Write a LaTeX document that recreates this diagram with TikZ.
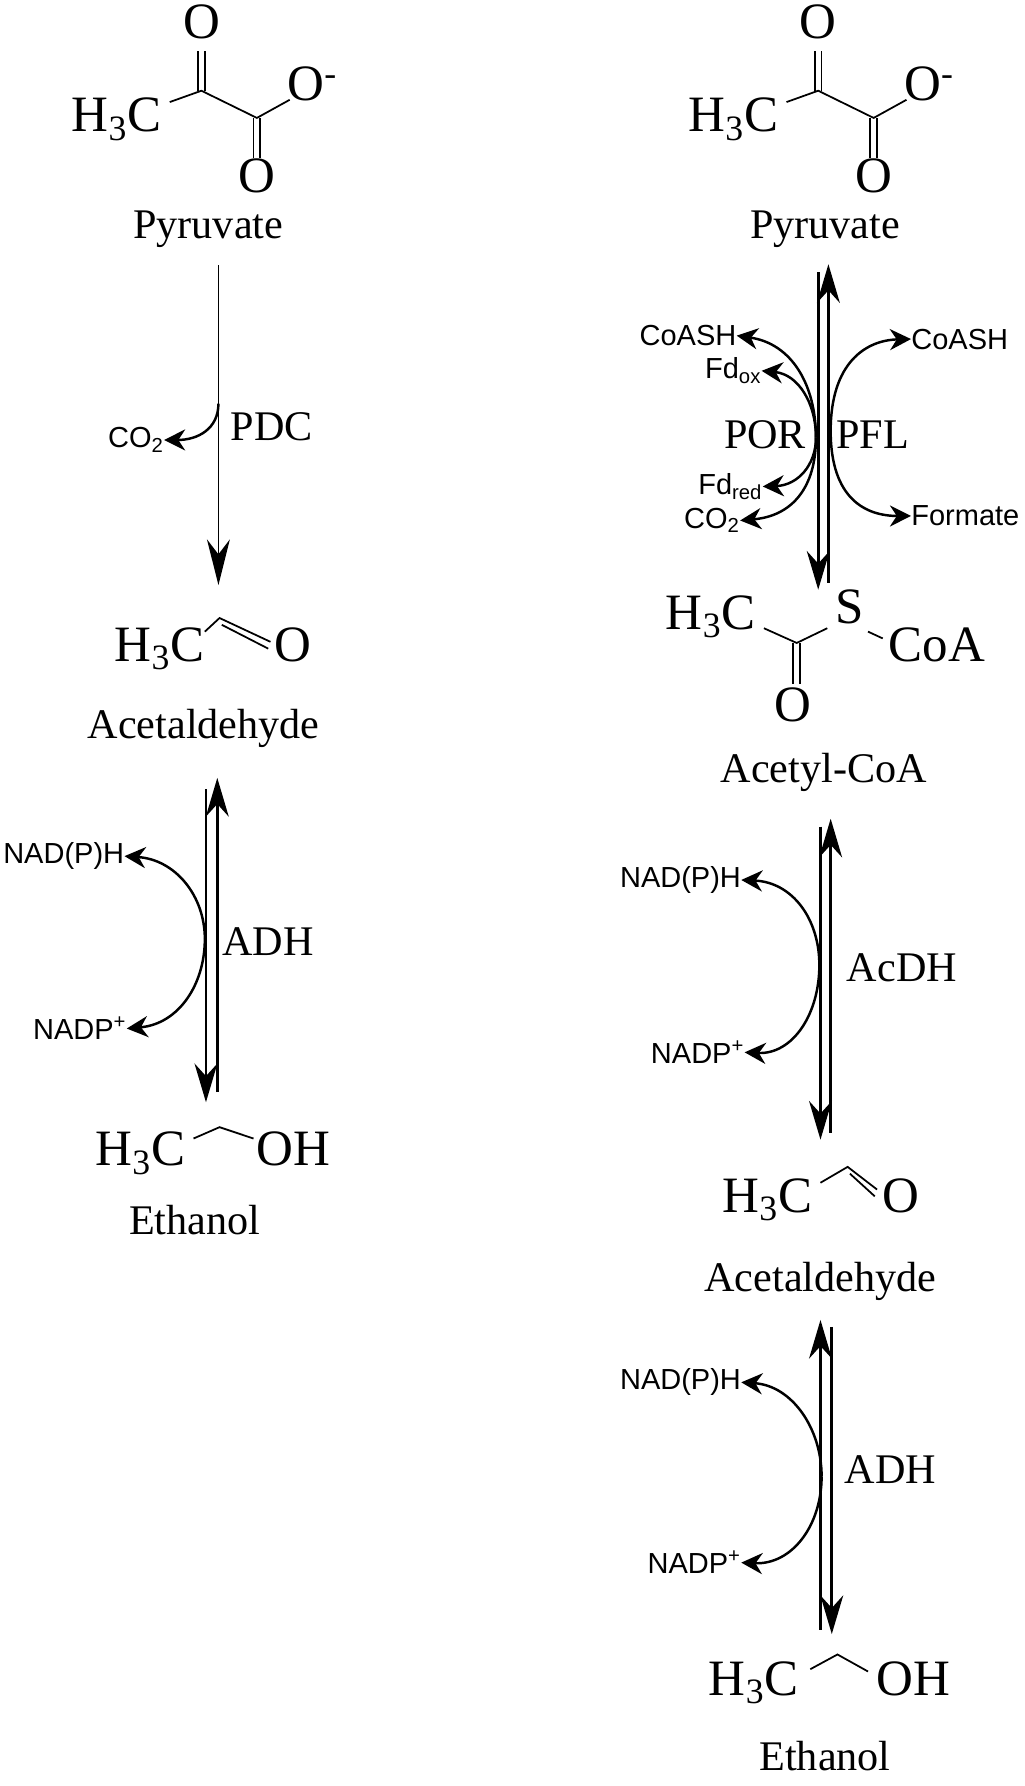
\documentclass[tikz,border=0pt]{standalone}
\usepackage{fontspec}
\setmainfont{Liberation Serif}
\newfontfamily\labelfont{Liberation Sans}
\usetikzlibrary{arrows.meta}

\begin{document}
\begin{tikzpicture}[x=0.02263cm, y=-0.02268cm]
		\tikzstyle{every node}=[inner sep=0pt]
		\tikzstyle{atom}=[font=\fontsize{29}{30}\selectfont, anchor=base]
		\tikzstyle{molname}=[font=\fontsize{24}{26}\selectfont]
		\tikzstyle{enzyme}=[font=\fontsize{24}{26}\selectfont]
		\tikzstyle{cofactor}=[font=\labelfont\fontsize{16.5}{19}\selectfont]
		\tikzstyle{bond}=[line width=1pt]
		\tikzstyle{rxn}=[line width=1.5pt, -{Stealth[length=22pt,width=13pt]}]
		\tikzstyle{side}=[line width=1.4pt, -{Stealth[length=12pt,width=12pt]}]
    \def\d{3}

		\useasboundingbox (0,0) rectangle (905,1575);

		% pyruvate, twice
		\foreach \dx/\p in {0/L,545/R} {
			\begin{scope}[xshift=\dx*0.02263cm]
				\node[atom] (\p-otop) at (178,34) {O};
				\node[atom] (\p-me) at (103,116) {H\textsubscript{3}C};
				\node[atom] (\p-obot) at (227,170) {O};
				\node[atom] (\p-om) at (276,89) {O\textsuperscript{-}};
				\coordinate (\p-c2) at (178,80);
				\coordinate (\p-c3) at (227,104);
				\draw[bond] (150,90) -- (\p-c2) -- (\p-c3) -- (256,88);
				\draw[bond] (178-\d,45) -- (178-\d,80) (178+\d,45) -- (178+\d,80);
				\draw[bond] (227-\d,104) -- (227-\d,139) (227+\d,104) -- (227+\d,139);
				\node[molname] (\p-pyr) at (184,202) {Pyruvate};
			\end{scope}
		}

		% left: PDC
		\coordinate (pdc-top) at (193,234);
		\coordinate (pdc-bot) at (193,516);
		\draw[line width=1pt, -{Stealth[length=26pt,width=13pt]}] (pdc-top) -- (pdc-bot);
		\node[enzyme] (pdc) at (240,376) {PDC};
		\node[cofactor, anchor=east] (co2a) at (145,388) {CO\textsubscript{2}};
		\draw[side] (193,356) .. controls (193,378) and (175,388) .. (co2a.east);

		% left: acetaldehyde
		\node[atom] (ald1-me) at (141,583) {H\textsubscript{3}C};
		\node[atom] (ald1-o) at (259,583) {O};
		\draw[bond] (181,557) -- (194,545) -- (239,566);
		\draw[bond] (196,551) -- (237,572);
		\node[molname] (ald1) at (180,642) {Acetaldehyde};

		% left: ADH
		\coordinate (adh1-a) at (182,696);
		\coordinate (adh1-b) at (182,972);
		\coordinate (adh1-c) at (192,963);
		\coordinate (adh1-d) at (192,686);
		\draw[rxn] (adh1-a) -- (adh1-b);
		\draw[rxn] (adh1-c) -- (adh1-d);
		\node[enzyme] (adh1) at (237,830) {ADH};
		\node[cofactor, anchor=east] (nadph1) at (110,755) {NAD(P)H};
		\node[cofactor, anchor=east] (nadp1) at (112,907) {NADP\textsuperscript{+}};
		\draw[side] (181,828) .. controls (181,790) and (155,758) .. (nadph1.east);
		\draw[side] (181,828) .. controls (181,868) and (158,903) .. (nadp1.east);

		% left: ethanol
		\node[atom] (eth1-me) at (124,1028) {H\textsubscript{3}C};
		\node[atom] (eth1-oh) at (259,1028) {OH};
		\draw[bond] (171,1004) -- (194,994) -- (224,1004);
		\node[molname] (eth1) at (172,1076) {Ethanol};

		% right: POR / PFL
		\coordinate (por-a) at (723,240);
		\coordinate (por-b) at (723,520);
		\coordinate (por-c) at (732,514);
		\coordinate (por-d) at (732,233);
		\draw[rxn] (por-a) -- (por-b);
		\draw[rxn] (por-c) -- (por-d);
		\node[enzyme] (por) at (676,383) {POR};
		\node[enzyme] (pfl) at (771,383) {PFL};
		\node[cofactor, anchor=east] (coash1) at (651,296) {CoASH};
		\node[cofactor, anchor=east] (fdox) at (673,327) {Fd\textsubscript{ox}};
		\node[cofactor, anchor=east] (fdred) at (674,429) {Fd\textsubscript{red}};
		\node[cofactor, anchor=east] (co2b) at (654,459) {CO\textsubscript{2}};
		\node[cofactor, anchor=west] (coash2) at (805,299) {CoASH};
		\node[cofactor, anchor=west] (formate) at (805,455) {Formate};
		\draw[side] (721,386) .. controls (721,340) and (700,303) .. (coash1.east);
		\draw[side] (721,386) .. controls (721,355) and (705,330) .. (fdox.east);
		\draw[side] (721,386) .. controls (721,410) and (705,428) .. (fdred.east);
		\draw[side] (721,386) .. controls (721,430) and (700,455) .. (co2b.east);
		\draw[side] (734,380) .. controls (734,320) and (765,300) .. (coash2.west);
		\draw[side] (734,380) .. controls (734,440) and (765,455) .. (formate.west);

		% right: acetyl-CoA
		\node[atom] (acoa-me) at (628,555) {H\textsubscript{3}C};
		\node[atom] (acoa-s) at (751,550) {S};
		\node[atom] (acoa-coa) at (828,583) {CoA};
		\node[atom] (acoa-o) at (701,636) {O};
		\draw[bond] (675,554) -- (704,567) -- (731,554);
		\draw[bond] (767,557) -- (780,563);
		\draw[bond] (704-\d,567) -- (704-\d,603) (704+\d,567) -- (704+\d,603);
		\node[molname] (acoa) at (728,681) {Acetyl-CoA};

		% right: AcDH
		\coordinate (acdh-a) at (725,729);
		\coordinate (acdh-b) at (725,1005);
		\coordinate (acdh-c) at (734,999);
		\coordinate (acdh-d) at (734,722);
		\draw[rxn] (acdh-a) -- (acdh-b);
		\draw[rxn] (acdh-c) -- (acdh-d);
		\node[enzyme] (acdh) at (797,853) {AcDH};
		\node[cofactor, anchor=east] (nadph2) at (655,776) {NAD(P)H};
		\node[cofactor, anchor=east] (nadp2) at (658,928) {NADP\textsuperscript{+}};
		\draw[side] (724,851) .. controls (724,810) and (700,778) .. (nadph2.east);
		\draw[side] (724,851) .. controls (724,895) and (700,930) .. (nadp2.east);

		% right: acetaldehyde
		\node[atom] (ald2-me) at (678,1069) {H\textsubscript{3}C};
		\node[atom] (ald2-o) at (796,1069) {O};
		\draw[bond] (725,1043) -- (749,1029) -- (775,1049);
		\draw[bond] (751,1035) -- (773,1055);
		\node[molname] (ald2) at (725,1130) {Acetaldehyde};

		% right: ADH
		\coordinate (adh2-a) at (725,1437);
		\coordinate (adh2-b) at (725,1164);
		\coordinate (adh2-c) at (735,1170);
		\coordinate (adh2-d) at (735,1441);
		\draw[rxn] (adh2-a) -- (adh2-b);
		\draw[rxn] (adh2-c) -- (adh2-d);
		\node[enzyme] (adh2) at (787,1296) {ADH};
		\node[cofactor, anchor=east] (nadph3) at (655,1219) {NAD(P)H};
		\node[cofactor, anchor=east] (nadp3) at (655,1378) {NADP\textsuperscript{+}};
		\draw[side] (726,1302) .. controls (726,1260) and (700,1222) .. (nadph3.east);
		\draw[side] (726,1302) .. controls (726,1345) and (700,1380) .. (nadp3.east);

		% right: ethanol
		\node[atom] (eth2-me) at (666,1495) {H\textsubscript{3}C};
		\node[atom] (eth2-oh) at (807,1495) {OH};
		\draw[bond] (716,1472) -- (740,1459) -- (767,1474);
		\node[molname] (eth2) at (729,1549) {Ethanol};
	\end{tikzpicture}
\end{document}
